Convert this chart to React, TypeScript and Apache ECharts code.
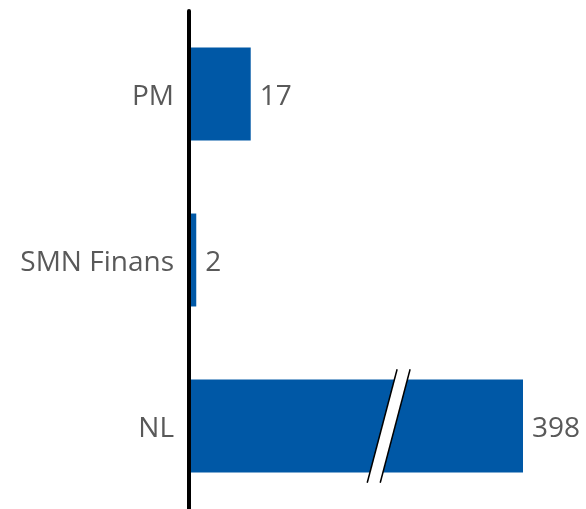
import React, { useEffect, useRef } from "react";
import * as echarts from "echarts";

const categories = ["NL", "SMN Finans", "PM"];
const values = [398, 2, 17];
const breakStart = 55;
const breakEnd = 361;
const barColor = "#0058A6";
const textColor = "#595959";

export default function App() {
  const ref = useRef<HTMLDivElement>(null);
  useEffect(() => {
    if (!ref.current) return;
    const chart = echarts.init(ref.current, null, { renderer: "svg" });
    chart.setOption({
      animation: false,
      grid: { left: 189, right: 63, top: 11, height: 499 },
      xAxis: {
        type: "value",
        min: 0,
        max: 398,
        breaks: [{ start: breakStart, end: breakEnd, gap: 0 }],
        breakArea: { show: false },
        axisLine: { show: false },
        axisTick: { show: false },
        axisLabel: { show: false },
        splitLine: { show: false },
      },
      yAxis: {
        type: "category",
        data: categories,
        offset: 2,
        z: 5,
        axisLine: { show: true, lineStyle: { color: "#000", width: 4 } },
        axisTick: { show: false },
        axisLabel: {
          color: textColor,
          fontFamily: "Open Sans",
          fontSize: 28,
          margin: 13,
        },
      },
      series: [
        {
          type: "bar",
          data: values,
          barCategoryGap: "44%",
          itemStyle: { color: barColor },
          label: {
            show: true,
            position: "right",
            distance: 9,
            color: textColor,
            fontFamily: "Open Sans",
            fontSize: 28,
          },
        },
      ],
    });
    const cx = chart.convertToPixel({ xAxisIndex: 0 }, breakStart) as number;
    const cy = chart.convertToPixel({ yAxisIndex: 0 }, "NL") as number;
    const cy2 = chart.convertToPixel({ yAxisIndex: 0 }, "SMN Finans") as number;
    const band = Math.abs(cy - cy2);
    const hh = band * 0.342;
    const sl = band * 0.09;
    const hw = 6.5;
    chart.setOption({
      graphic: [
        {
          type: "polygon",
          z: 10,
          shape: {
            points: [
              [cx + sl - hw, cy - hh],
              [cx + sl + hw, cy - hh],
              [cx - sl + hw, cy + hh],
              [cx - sl - hw, cy + hh],
            ],
          },
          style: { fill: "#fff" },
        },
        {
          type: "line",
          z: 11,
          shape: { x1: cx + sl - hw, y1: cy - hh, x2: cx - sl - hw, y2: cy + hh },
          style: { stroke: "#000", lineWidth: 1.5 },
        },
        {
          type: "line",
          z: 11,
          shape: { x1: cx + sl + hw, y1: cy - hh, x2: cx - sl + hw, y2: cy + hh },
          style: { stroke: "#000", lineWidth: 1.5 },
        },
      ],
    });
    return () => chart.dispose();
  }, []);
  return (
    <div
      ref={ref}
      style={{ position: "fixed", left: 0, top: 0, width: 586, height: 509 }}
    />
  );
}
